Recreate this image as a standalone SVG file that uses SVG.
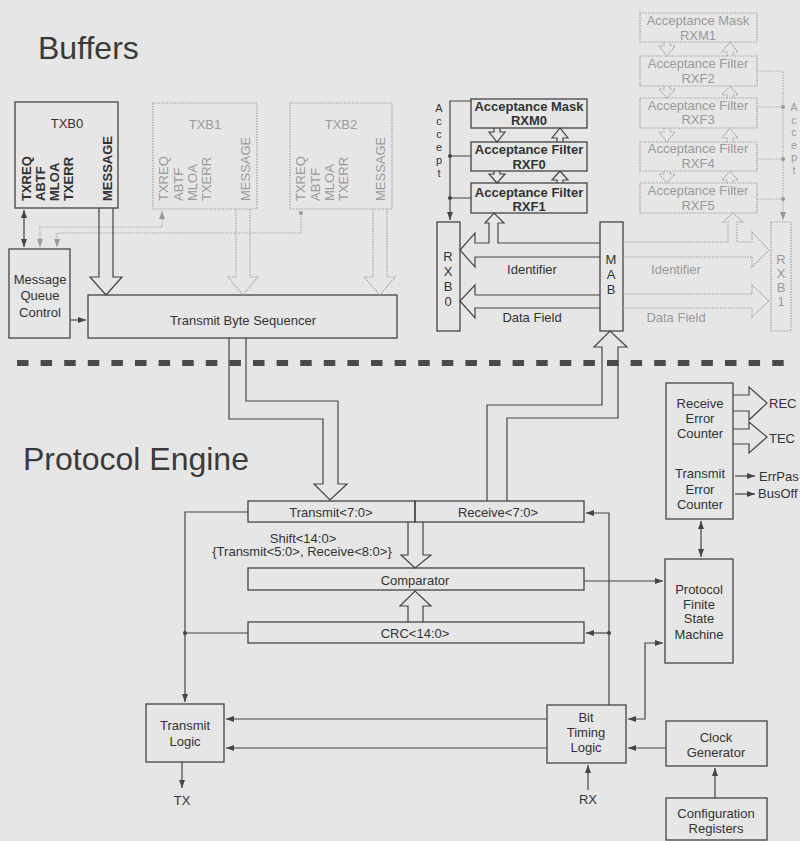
<svg xmlns="http://www.w3.org/2000/svg" width="800" height="841" viewBox="0 0 800 841">
<defs>
<marker id="ad" markerUnits="userSpaceOnUse" markerWidth="9" markerHeight="7" refX="8" refY="3.5" orient="auto-start-reverse"><path d="M0,0.5 L8,3.5 L0,6.5 z" fill="#444"/></marker>
<marker id="ag" markerUnits="userSpaceOnUse" markerWidth="9" markerHeight="7" refX="8" refY="3.5" orient="auto-start-reverse"><path d="M0,0.5 L8,3.5 L0,6.5 z" fill="#999"/></marker>
</defs>
<style>
text{font-family:"Liberation Sans",Arial,sans-serif;fill:#333;font-size:13px}
.title{font-size:32px;fill:#3a3a3a}
.c{text-anchor:middle}
.b{font-weight:bold}
.gt{fill:#9a9a9a}
.acc{font-size:11px}
.box{fill:none;stroke:#444;stroke-width:1.3}
.gbox{fill:none;stroke:#a0a0a0;stroke-width:1.2;stroke-dasharray:1.5 1.2}
.ln{fill:none;stroke:#444;stroke-width:1.2}
.gln{fill:none;stroke:#a8a8a8;stroke-width:1.1;stroke-dasharray:1.5 1.2}
.blk{fill:none;stroke:#444;stroke-width:1.2}
.gblk{fill:none;stroke:#a0a0a0;stroke-width:1.1;stroke-dasharray:1.5 1.2}
.dot{fill:#444}
.gdot{fill:#999}
</style>
<rect width="800" height="841" fill="#e6e6e6"/>

<text class="title" x="38" y="59">Buffers</text>
<text class="title" x="23" y="470">Protocol Engine</text>

<g id="txb0">
<rect class="box" x="15" y="102" width="103" height="106"/>
<text class="c" x="67" y="128">TXB0</text>
<g class="b">
<text transform="translate(31,201) rotate(-90)">TXREQ</text>
<text transform="translate(45,201) rotate(-90)">ABTF</text>
<text transform="translate(59,201) rotate(-90)">MLOA</text>
<text transform="translate(73,201) rotate(-90)">TXERR</text>
<text transform="translate(112,201) rotate(-90)">MESSAGE</text>
</g>
</g>
<g id="txb1">
<rect class="gbox" x="153" y="103" width="104" height="106"/>
<text class="c gt" x="205" y="129">TXB1</text>
<text class="gt" transform="translate(168,201) rotate(-90)">TXREQ</text>
<text class="gt" transform="translate(183,201) rotate(-90)">ABTF</text>
<text class="gt" transform="translate(197,201) rotate(-90)">MLOA</text>
<text class="gt" transform="translate(211,201) rotate(-90)">TXERR</text>
<text class="gt" transform="translate(250,201) rotate(-90)">MESSAGE</text>
</g>
<g id="txb2">
<rect class="gbox" x="290" y="103" width="102" height="106"/>
<text class="c gt" x="341" y="129">TXB2</text>
<text class="gt" transform="translate(305,201) rotate(-90)">TXREQ</text>
<text class="gt" transform="translate(320,201) rotate(-90)">ABTF</text>
<text class="gt" transform="translate(334,201) rotate(-90)">MLOA</text>
<text class="gt" transform="translate(348,201) rotate(-90)">TXERR</text>
<text class="gt" transform="translate(385,201) rotate(-90)">MESSAGE</text>
</g>
<g id="mqc">
<rect class="box" x="9" y="249" width="61" height="89"/>
<text class="c" x="40" y="284">Message</text>
<text class="c" x="40" y="300">Queue</text>
<text class="c" x="40" y="317">Control</text>
</g>
<g id="tbs">
<rect class="box" x="88" y="295" width="309" height="43"/>
<text class="c" x="243" y="325">Transmit Byte Sequencer</text>
</g>

<g id="rxm0">
<rect class="box" x="471" y="99" width="116" height="29"/>
<text class="c b" x="529" y="111" font-size="12.5">Acceptance Mask</text>
<text class="c b" x="529" y="125" font-size="12.5">RXM0</text>
</g>
<g id="rxf0">
<rect class="box" x="471" y="142" width="116" height="29"/>
<text class="c b" x="529" y="154" font-size="12.5">Acceptance Filter</text>
<text class="c b" x="529" y="169" font-size="12.5">RXF0</text>
</g>
<g id="rxf1">
<rect class="box" x="471" y="183" width="116" height="30"/>
<text class="c b" x="529" y="197" font-size="12.5">Acceptance Filter</text>
<text class="c b" x="529" y="211" font-size="12.5">RXF1</text>
</g>
<g id="rxb0">
<rect class="box" x="437" y="222" width="23" height="109"/>
<text class="c" x="448" y="261">R<tspan x="448" dy="15">X</tspan><tspan x="448" dy="15">B</tspan><tspan x="448" dy="15">0</tspan></text>
</g>
<g id="mab">
<rect class="box" x="600" y="222" width="23" height="109"/>
<text class="c" x="611" y="264">M<tspan x="611" dy="15">A</tspan><tspan x="611" dy="15">B</tspan></text>
</g>
<g id="rxm1">
<rect class="gbox" x="640" y="13" width="117" height="29"/>
<text class="c gt" x="698" y="25">Acceptance Mask</text>
<text class="c gt" x="698" y="40">RXM1</text>
</g>
<g id="rxf2">
<rect class="gbox" x="640" y="56" width="117" height="30"/>
<text class="c gt" x="698" y="68">Acceptance Filter</text>
<text class="c gt" x="698" y="83">RXF2</text>
</g>
<g id="rxf3">
<rect class="gbox" x="640" y="98" width="117" height="30"/>
<text class="c gt" x="698" y="110">Acceptance Filter</text>
<text class="c gt" x="698" y="124">RXF3</text>
</g>
<g id="rxf4">
<rect class="gbox" x="640" y="142" width="117" height="29"/>
<text class="c gt" x="698" y="153">Acceptance Filter</text>
<text class="c gt" x="698" y="168">RXF4</text>
</g>
<g id="rxf5">
<rect class="gbox" x="640" y="183" width="117" height="30"/>
<text class="c gt" x="698" y="195">Acceptance Filter</text>
<text class="c gt" x="698" y="210">RXF5</text>
</g>
<g id="rxb1">
<rect class="gbox" x="771" y="222" width="20" height="109"/>
<text class="c gt" x="781" y="264">R<tspan x="781" dy="14">X</tspan><tspan x="781" dy="14">B</tspan><tspan x="781" dy="14">1</tspan></text>
</g>

<g id="txbuf-pe">
<rect class="box" x="248" y="501" width="167" height="21"/>
<text class="c" x="331" y="517">Transmit&lt;7:0&gt;</text>
</g>
<g id="rxbuf-pe">
<rect class="box" x="415" y="501" width="169" height="21"/>
<text class="c" x="498" y="517">Receive&lt;7:0&gt;</text>
</g>
<g id="comparator">
<rect class="box" x="248" y="568" width="336" height="22"/>
<text class="c" x="415" y="585">Comparator</text>
</g>
<g id="crc">
<rect class="box" x="248" y="622" width="336" height="21"/>
<text class="c" x="415" y="638">CRC&lt;14:0&gt;</text>
</g>
<g id="txlogic">
<rect class="box" x="146" y="704" width="78" height="58"/>
<text class="c" x="185" y="730">Transmit</text>
<text class="c" x="185" y="746">Logic</text>
</g>
<g id="btl">
<rect class="box" x="547" y="705" width="79" height="58"/>
<text class="c" x="586" y="722">Bit</text>
<text class="c" x="586" y="737">Timing</text>
<text class="c" x="586" y="752">Logic</text>
</g>
<g id="clockgen">
<rect class="box" x="666" y="721" width="101" height="45"/>
<text class="c" x="716" y="742">Clock</text>
<text class="c" x="716" y="757">Generator</text>
</g>
<g id="config">
<rect class="box" x="666" y="798" width="101" height="42"/>
<text class="c" x="716" y="818">Configuration</text>
<text class="c" x="716" y="833">Registers</text>
</g>
<g id="fsm">
<rect class="box" x="665" y="559" width="68" height="104"/>
<text class="c" x="699" y="594">Protocol</text>
<text class="c" x="699" y="609">Finite</text>
<text class="c" x="699" y="623">State</text>
<text class="c" x="699" y="639">Machine</text>
</g>
<g id="errcnt">
<rect class="box" x="666" y="383" width="67" height="136"/>
<text class="c" x="700" y="408">Receive</text>
<text class="c" x="700" y="423">Error</text>
<text class="c" x="700" y="438">Counter</text>
<text class="c" x="700" y="478">Transmit</text>
<text class="c" x="700" y="494">Error</text>
<text class="c" x="700" y="509">Counter</text>
</g>

<g id="labels">
<text class="c" x="532" y="274">Identifier</text>
<text class="c" x="532" y="322">Data Field</text>
<text class="c gt" x="676" y="274">Identifier</text>
<text class="c gt" x="676" y="322">Data Field</text>
<text class="c acc" x="439" y="112">A<tspan x="439" dy="13">c</tspan><tspan x="439" dy="13">c</tspan><tspan x="439" dy="13">e</tspan><tspan x="439" dy="13">p</tspan><tspan x="439" dy="13">t</tspan></text>
<text class="c gt acc" x="794" y="111">A<tspan x="794" dy="12.5">c</tspan><tspan x="794" dy="12.5">c</tspan><tspan x="794" dy="12.5">e</tspan><tspan x="794" dy="12.5">p</tspan><tspan x="794" dy="13">t</tspan></text>
<text class="c" x="303" y="543">Shift&lt;14:0&gt;<tspan x="302" dy="13">{Transmit&lt;5:0&gt;, Receive&lt;8:0&gt;}</tspan></text>
<text x="769" y="408">REC</text>
<text x="769" y="443">TEC</text>
<text x="759" y="481">ErrPas</text>
<text x="758" y="498">BusOff</text>
<text class="c" x="182" y="805">TX</text>
<text class="c" x="588" y="804">RX</text>
</g>

<g id="connectors">
<path class="ln" d="M24,210 V247" marker-start="url(#ad)" marker-end="url(#ad)"/>
<path class="gln" d="M162,211 V227 H40 V247" marker-start="url(#ag)" marker-end="url(#ag)"/>
<path class="gln" d="M301,213 V233 H57 V247" marker-end="url(#ag)"/>
<circle class="gdot" cx="301" cy="213" r="2"/>
<path class="ln" d="M70,320 H86" marker-end="url(#ad)"/>
<path class="blk" d="M99,208 V277 H90 L106,295 L122,277 H113 V208"/>
<path class="gblk" d="M236,209 V277 H228 L243,295 L258,277 H250 V209"/>
<path class="gblk" d="M373,209 V277 H364 L380,295 L395,277 H387 V209"/>
<path class="ln" d="M471,101 H450 V220" marker-end="url(#ad)"/>
<path class="ln" d="M450,156 H471 M450,198 H471"/>
<circle class="dot" cx="450" cy="156" r="2"/>
<circle class="dot" cx="450" cy="198" r="2"/>
<path class="blk" d="M494,128 V132 H489 L497,142 L505,132 H500 V128"/>
<path class="blk" d="M557,142 V138 H552 L560,128 L568,138 H563 V142"/>
<path class="blk" d="M494,171 V174 H489 L497,183 L505,174 H500 V171"/>
<path class="blk" d="M557,183 V180 H552 L560,171 L568,180 H563 V183"/>
<path class="gln" d="M757,71 H783 V220" marker-end="url(#ag)"/>
<path class="gln" d="M757,107 H783 M757,159 H783 M757,199 H783"/>
<circle class="gdot" cx="783" cy="107" r="2"/>
<circle class="gdot" cx="783" cy="159" r="2"/>
<circle class="gdot" cx="783" cy="199" r="2"/>
<path class="gblk" d="M664,42 V46 H659 L667,56 L675,46 H670 V42"/>
<path class="gblk" d="M727,56 V52 H722 L730,42 L738,52 H733 V56"/>
<path class="gblk" d="M664,86 V89 H659 L667,98 L675,89 H670 V86"/>
<path class="gblk" d="M727,98 V95 H722 L730,86 L738,95 H733 V98"/>
<path class="gblk" d="M664,128 V132 H659 L667,142 L675,132 H670 V128"/>
<path class="gblk" d="M727,142 V138 H722 L730,128 L738,138 H733 V142"/>
<path class="gblk" d="M664,171 V174 H659 L667,183 L675,174 H670 V171"/>
<path class="gblk" d="M727,183 V180 H722 L730,171 L738,180 H733 V183"/>
<path class="blk" d="M600,243 H498 V223 H504 L494,213 L485,223 H489 V243 H475 V233 L460,250 L475,267 V257 H600"/>
<path class="blk" d="M600,295 H475 V285 L460,301 L475,318 V308 H600"/>
<path class="gblk" d="M623,242 H728 V222 H723 L733,213 L743,222 H737 V242 H752 V232 L769,250 L752,267 V257 H623"/>
<path class="gblk" d="M623,294 H752 V285 L769,301 L752,317 V308 H623"/>
<path class="blk" d="M229,338 V419 H323 V484 H314 L330,500 L347,484 H338 V401 H246 V338"/>
<path class="blk" d="M487,501 V405 H602 V347 H594 L610,331 L627,347 H618 V418 H507 V501"/>
<path class="blk" d="M408,522 V555 H401 L415,568 L431,555 H423 V522"/>
<path class="blk" d="M408,622 V606 H400 L415,591 L431,606 H423 V622"/>
<path class="ln" d="M248,512 H185 V702" marker-end="url(#ad)"/>
<path class="ln" d="M248,633 H185"/>
<circle class="dot" cx="185" cy="633" r="2"/>
<path class="ln" d="M609,705 V513 H586" marker-end="url(#ad)"/>
<path class="ln" d="M609,633 H586" marker-end="url(#ad)"/>
<circle class="dot" cx="609" cy="633" r="2"/>
<path class="ln" d="M584,581 H663" marker-end="url(#ad)"/>
<path class="ln" d="M628,719 H645 V643 H663" marker-start="url(#ad)" marker-end="url(#ad)"/>
<path class="ln" d="M666,748 H628" marker-end="url(#ad)"/>
<path class="ln" d="M715,798 V768" marker-end="url(#ad)"/>
<path class="ln" d="M547,719 H226" marker-end="url(#ad)"/>
<path class="ln" d="M547,748 H226" marker-end="url(#ad)"/>
<path class="ln" d="M182,762 V788" marker-end="url(#ad)"/>
<path class="ln" d="M588,790 V765" marker-end="url(#ad)"/>
<path class="ln" d="M701,521 V557" marker-start="url(#ad)" marker-end="url(#ad)"/>
<path class="ln" d="M735,476 H755" marker-end="url(#ad)"/>
<path class="ln" d="M735,494 H755" marker-end="url(#ad)"/>
<path class="blk" d="M733,395 H749 V387 L767,403 L749,420 V411 H733"/>
<path class="blk" d="M733,429 H749 V422 L767,437 L749,453 V444 H733"/>
</g>

<line id="separator" x1="17" y1="363" x2="795" y2="363" stroke="#4a4a4a" stroke-width="6" stroke-dasharray="11.5 12.1"/>
</svg>
